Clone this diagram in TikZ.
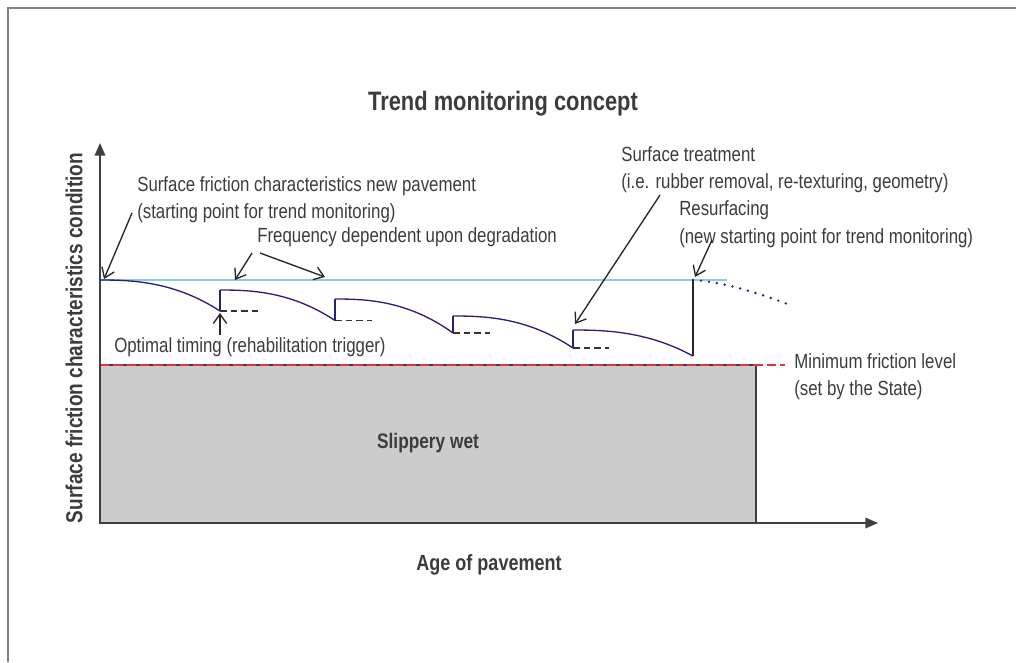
\documentclass[tikz,border=0pt]{standalone}
\usepackage{fontspec}
\setmainfont{Liberation Sans}[FakeStretch=0.82]
\usetikzlibrary{arrows.meta}

\definecolor{ink}{HTML}{3C3C3C}
\definecolor{axisgray}{HTML}{404040}
\definecolor{framegray}{HTML}{808080}
\definecolor{skyline}{HTML}{8ACBEA}
\definecolor{navy}{HTML}{23237F}
\definecolor{redline}{HTML}{E8323C}
\definecolor{zonegray}{HTML}{CCCCCC}

\tikzset{
  note/.style={anchor=west, inner sep=0pt, text=ink,
    font=\fontsize{15.4}{18}\selectfont, text height=0.75em, text depth=0.22em},
  heading/.style={inner sep=0pt, text=ink, font=\bfseries\fontsize{20}{24}\selectfont},
  axislabel/.style={inner sep=0pt, text=ink, font=\bfseries\fontsize{16.5}{20}\selectfont},
  pointer/.style={draw=black!85, line width=1pt, -{Straight Barb[length=7pt,width=10pt]}},
  axisline/.style={draw=axisgray, line width=1.1pt, -{Triangle[length=9.5pt,width=8pt]}},
  wear/.style={draw=navy, line width=1pt},
  trough/.style={draw=black!80, line width=0.9pt, dash pattern=on 5pt off 3pt},
}

% one wear segment: start (x1,y1), end (x2,y2), accelerating decline
\newcommand\wearseg[4]{%
  \draw[wear] plot[domain=0:1, samples=40, smooth]
    ({#1+\x*(#3-#1)}, {#2+(#4-#2)*\x*\x*sqrt(\x)});}

\begin{document}
\begin{tikzpicture}[x=0.75pt, y=-0.75pt]
\useasboundingbox (0,0) rectangle (1016,662);

% outer frame
\draw[framegray, line width=1.4pt] (8,662) -- (8,8) -- (1016,8);

% slippery zone
\draw[fill=zonegray, draw=axisgray, line width=1pt] (100,523) rectangle (756,365);
\node[font=\bfseries\fontsize{15.8}{19}\selectfont, text=ink, inner sep=0pt] (slip) at (428,443) {Slippery wet};

% minimum friction level
\draw[redline, line width=1.4pt, dash pattern=on 7pt off 3pt] (100,365) -- (785,365);

% new pavement reference level
\draw[skyline, line width=1.4pt] (100,280) -- (727,280);

% axes
\coordinate (O) at (100,523);
\coordinate (ytip) at (100,143);
\coordinate (xtip) at (878,523);
\draw[axisline] (O) -- (ytip);
\draw[axisline] (O) -- (xtip);

% friction decline between treatments
\wearseg{100}{280}{220}{311}
\wearseg{220}{290}{335}{320.5}
\wearseg{335}{299}{453}{333}
\wearseg{453}{316}{573}{348}
\wearseg{573}{330}{693}{356}
\draw[wear] (220,311) -- (220,290);
\draw[wear] (335,320.5) -- (335,299);
\draw[wear] (453,333) -- (453,316);
\draw[wear] (573,348) -- (573,330);
\draw[black!85, line width=1pt] (693,356) -- (693,280);

% projected decline after resurfacing
\draw[navy, line width=2pt, line cap=round, dash pattern=on 0pt off 6pt]
  plot[domain=0:1, samples=30, smooth] ({693+\x*97}, {280+25*\x*sqrt(\x)});

% trigger levels
\draw[trough] (220,311) -- (258,311);
\draw[trough] (335,320.5) -- (372,320.5);
\draw[trough] (453,333) -- (490,333);
\draw[trough] (573,348) -- (609,348);

% titles
\node[heading] (title) at (503,104) {Trend monitoring concept};
\node[axislabel, rotate=90] (ylab) at (74,338) {\fontsize{17.4}{20}\selectfont Surface friction characteristics condition};
\node[axislabel] (xlab) at (489,565) {Age of pavement};

% annotations
\node[note] (n1a) at (137,187.5) {Surface friction characteristics new pavement};
\node[note] (n1b) at (137,215) {(starting point for trend monitoring)};
\node[note] (freq) at (257,239) {Frequency dependent upon degradation};
\node[note] (opt) at (114,349) {Optimal timing (rehabilitation trigger)};
\node[note] (st1) at (621,158) {Surface treatment};
\node[note] (st2) at (621,185) {(i.e. rubber removal, re-texturing, geometry)};
\node[note] (rs1) at (679,212) {Resurfacing};
\node[note] (rs2) at (679,240) {(new starting point for trend monitoring)};
\node[note] (min1) at (794,365) {Minimum friction level};
\node[note] (min2) at (794,392) {(set by the State)};

% pointers
\coordinate (p1s) at (132,213);  \coordinate (p1e) at (104,279);
\coordinate (p2s) at (252,253);  \coordinate (p2e) at (235,280);
\coordinate (p3s) at (260,253);  \coordinate (p3e) at (325,277);
\coordinate (p4s) at (220,335);  \coordinate (p4e) at (220,313);
\coordinate (p5s) at (660,195);  \coordinate (p5e) at (575,324);
\coordinate (p6s) at (712,240);  \coordinate (p6e) at (695,277);
\draw[pointer] (p1s) -- (p1e);
\draw[pointer] (p2s) -- (p2e);
\draw[pointer] (p3s) -- (p3e);
\draw[pointer] (p4s) -- (p4e);
\draw[pointer] (p5s) -- (p5e);
\draw[pointer] (p6s) -- (p6e);
\end{tikzpicture}
\end{document}
